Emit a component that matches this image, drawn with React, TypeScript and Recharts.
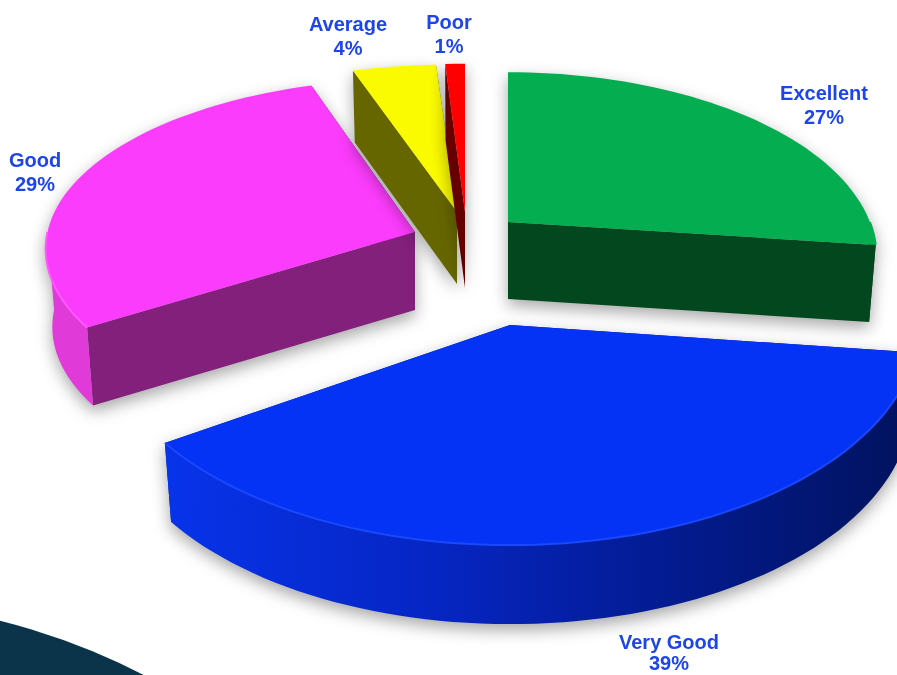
import { PieChart, Pie, Cell } from "recharts";

const categories = ["Excellent", "Very Good", "Good", "Average", "Poor"];
const percents = [27, 39, 29, 4, 1];

const topColors = ["#04ad4f", "#0433f5", "#fc3cfc", "#fbfb00", "#fe0000"];
const faceColors = ["#03471f", "#021a8a", "#82207c", "#666600", "#660000"];
const rimColors = ["#03471f", "url(#veryGoodRim)", "#e03ad8", "#666600", "#660000"];
const edgeColors = ["#04ad4f", "#1a48fb", "#ff58ff", "#fbfb00", "#fe0000"];

// explode offset from the pie centre and shape of each slice
const offsetX = [8, 10, -85, -43, -35];
const offsetY = [-18, 85, -8, -28, -28];
const widthScale = [0.965, 1.09, 0.98, 1.06, 1];
const tilts = [0.475, 0.587, 0.45, 0.468, 0.47];
const perspectives = [0.189, 0, 0.1, 0.189, 0.189];
const depths = [77, 79, 78, 72, 76];

const labelX = [824, 669, 35, 348, 449];
const labelY = [100, 649, 167, 31, 29];
const labelGap = [24, 21, 24, 24, 24];

// the underside of the pie is a little narrower than the top
const BOTTOM_TAPER = 0.982;
const chartData = categories.map((name, i) => ({ name, value: percents[i] }));

type Pt = [number, number];

function project(cx: number, cy: number, r: number, deg: number, i: number): Pt {
  const a = (deg * Math.PI) / 180;
  const v = Math.sin(a);
  const p = 1 / (1 + perspectives[i] * v);
  return [cx + r * widthScale[i] * Math.cos(a) * p, cy - r * tilts[i] * v * p];
}

const toPath = (pts: Pt[]) => "M" + pts.map((q) => q[0].toFixed(1) + " " + q[1].toFixed(1)).join("L") + "Z";
const toLine = (pts: Pt[]) => "M" + pts.map((q) => q[0].toFixed(1) + " " + q[1].toFixed(1)).join("L");

function arcPoints(cx: number, cy: number, r: number, from: number, to: number, i: number): Pt[] {
  const steps = Math.max(2, Math.ceil(Math.abs(from - to) / 2));
  const pts: Pt[] = [];
  for (let s = 0; s <= steps; s++) {
    pts.push(project(cx, cy, r, from + ((to - from) * s) / steps, i));
  }
  return pts;
}

// one exploded slice, squashed and extruded from the angles the Pie computed
function Slice3D(props: any) {
  const { cx, cy, outerRadius, startAngle, endAngle, index } = props;
  const ax = cx + offsetX[index];
  const ay = cy + offsetY[index];
  const d = depths[index];
  const drop = (pts: Pt[]): Pt[] => pts.map((q) => [ax + (q[0] - ax) * BOTTOM_TAPER, q[1] + d]);
  const apex: Pt = [ax, ay];
  const rim = arcPoints(ax, ay, outerRadius, startAngle, endAngle, index);
  const first = rim[0];
  const last = rim[rim.length - 1];

  // the outer wall only shows on the front half of the disc
  const lo = Math.max(endAngle, -180);
  const hi = Math.min(startAngle, 0);
  const front = hi > lo ? arcPoints(ax, ay, outerRadius, hi, lo, index) : [];
  const wall = front.length ? [...front, ...drop(front).reverse()] : [];

  return (
    <g style={{ filter: "drop-shadow(0px 6px 8px rgba(0,0,0,0.35))" }}>
      <path d={toPath([apex, first, ...drop([first]), ...drop([apex])])} fill={faceColors[index]} />
      <path d={toPath([apex, last, ...drop([last]), ...drop([apex])])} fill={faceColors[index]} />
      {wall.length > 0 && <path d={toPath(wall)} fill={rimColors[index]} />}
      <path d={toPath([apex, ...rim])} fill={topColors[index]} />
      {front.length > 0 && <path d={toLine(front)} fill="none" stroke={edgeColors[index]} strokeWidth={2} />}
    </g>
  );
}

function renderLabel(props: any) {
  const i = props.index;
  return (
    <text
      key={categories[i]}
      x={labelX[i]}
      y={labelY[i]}
      textAnchor="middle"
      fontFamily="'Liberation Sans', Arial, sans-serif"
      fontWeight="bold"
      fontSize={20}
      fill="#1c45ee"
    >
      <tspan x={labelX[i]}>{categories[i]}</tspan>
      <tspan x={labelX[i]} dy={labelGap[i]}>
        {percents[i]}%
      </tspan>
    </text>
  );
}

export default function App() {
  return (
    <div style={{ position: "fixed", left: 0, top: 0, width: 897, height: 675, overflow: "hidden", background: "#fff" }}>
      <div
        style={{
          position: "absolute",
          left: -820,
          top: 601,
          width: 1320,
          height: 1320,
          borderRadius: "50%",
          background: "#0b3349",
        }}
      />
      <div style={{ position: "absolute", left: 0, top: 0, filter: "blur(0.5px)" }}>
        <PieChart width={897} height={675} margin={{ top: 0, right: 0, bottom: 0, left: 0 }}>
          <defs>
            <linearGradient id="veryGoodRim" x1="0" y1="0" x2="1" y2="0">
              <stop offset="0%" stopColor="#0733ea" />
              <stop offset="35%" stopColor="#0626c4" />
              <stop offset="70%" stopColor="#031a8c" />
              <stop offset="100%" stopColor="#01125c" />
            </linearGradient>
          </defs>
          <Pie
            data={chartData}
            dataKey="value"
            nameKey="name"
            cx={500}
            cy={240}
            outerRadius={375}
            startAngle={90}
            endAngle={-270}
            paddingAngle={0}
            stroke="none"
            isAnimationActive={false}
            shape={Slice3D}
            label={renderLabel}
            labelLine={false}
          >
            {categories.map((name, i) => (
              <Cell key={name} fill={topColors[i]} />
            ))}
          </Pie>
        </PieChart>
      </div>
    </div>
  );
}
